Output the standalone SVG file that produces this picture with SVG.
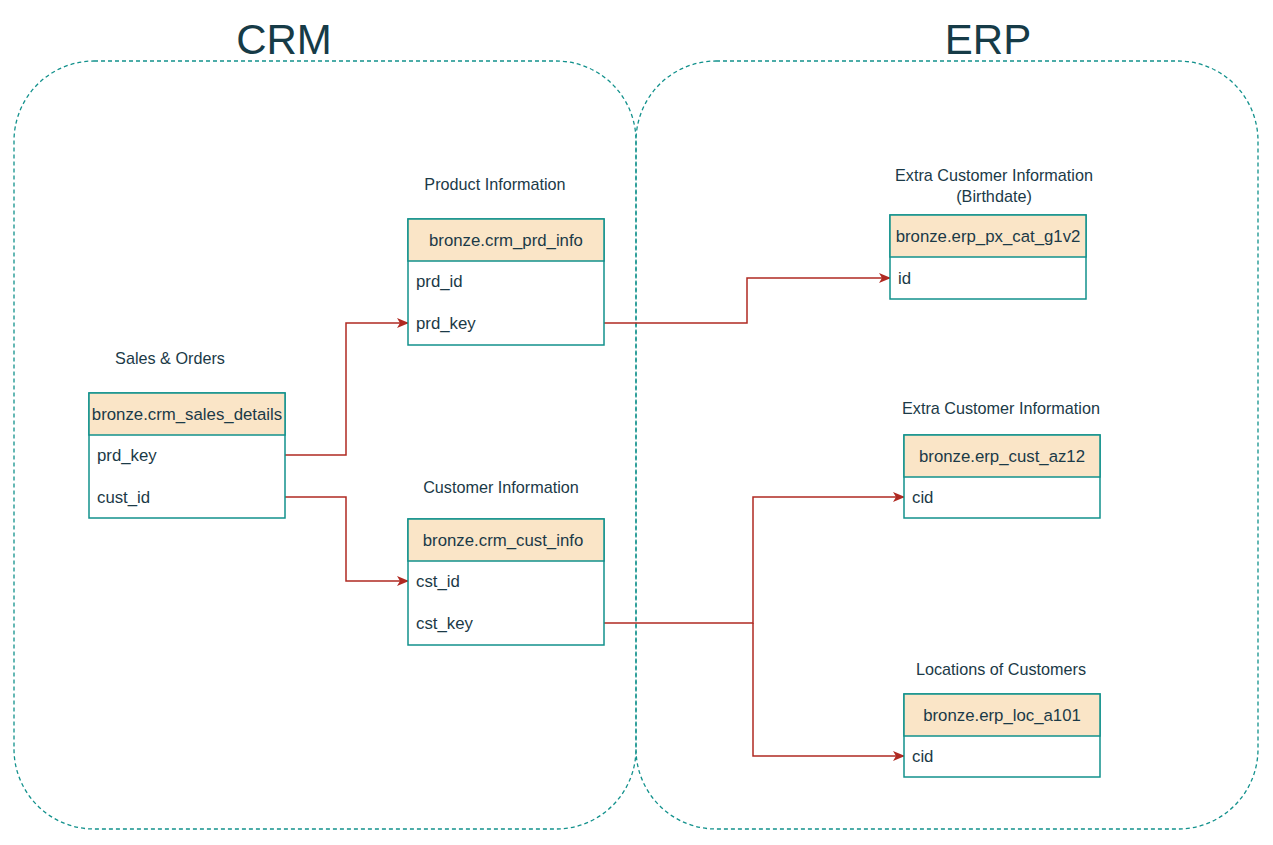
<svg xmlns="http://www.w3.org/2000/svg" width="1273" height="845" viewBox="0 0 1273 845">
<style>
.zone{fill:none;stroke:#12918C;stroke-width:1.3;stroke-dasharray:4 3}
.title{font-family:"Liberation Sans",Arial,sans-serif;font-size:42px;fill:#163B47;text-anchor:middle}
.lbl{font-family:"Liberation Sans",Arial,sans-serif;font-size:16.2px;fill:#1B3A47;text-anchor:middle}
.hd{fill:#FAE5C7;stroke:#12918C;stroke-width:1.5}
.bd{fill:#FFFFFF;stroke:#12918C;stroke-width:1.5}
.ht{font-family:"Liberation Sans",Arial,sans-serif;font-size:16.8px;fill:#1B3A47;text-anchor:middle}
.rt{font-family:"Liberation Sans",Arial,sans-serif;font-size:16.8px;fill:#1B3A47}
.cn{fill:none;stroke:#B02A22;stroke-width:1.5}
</style>
<defs>
<marker id="arr" viewBox="0 0 12 10" refX="11" refY="5" markerWidth="12" markerHeight="10" markerUnits="userSpaceOnUse" orient="auto">
<path d="M0,0 L12,5 L0,10 L3,5 Z" fill="#B02A22"/>
</marker>
</defs>
<rect width="1273" height="845" fill="#FFFFFF"/>
<g id="crm-zone">
<rect class="zone" x="14" y="61" width="622" height="768" rx="80" ry="80"/>
<text class="title" x="284" y="54">CRM</text>
</g>
<g id="erp-zone">
<rect class="zone" x="636" y="61" width="622" height="768" rx="80" ry="80"/>
<text class="title" x="988" y="54">ERP</text>
</g>
<g id="connectors">
<path class="cn" d="M285,455 H346 V323 H408" marker-end="url(#arr)"/>
<path class="cn" d="M285,497 H346 V581 H408" marker-end="url(#arr)"/>
<path class="cn" d="M604,323 H747 V278 H890" marker-end="url(#arr)"/>
<path class="cn" d="M604,623 H753 V497 H904" marker-end="url(#arr)"/>
<path class="cn" d="M753,623 V756 H904" marker-end="url(#arr)"/>
</g>
<g id="sales">
<text class="lbl" x="170" y="364">Sales &amp; Orders</text>
<rect class="bd" x="89" y="393" width="196" height="125"/>
<rect class="hd" x="89" y="393" width="196" height="42"/>
<text class="ht" x="187" y="420">bronze.crm_sales_details</text>
<text class="rt" x="97" y="461">prd_key</text>
<text class="rt" x="97" y="503">cust_id</text>
</g>
<g id="prd">
<text class="lbl" x="495" y="190">Product Information</text>
<rect class="bd" x="408" y="219" width="196" height="126"/>
<rect class="hd" x="408" y="219" width="196" height="42"/>
<text class="ht" x="506" y="246">bronze.crm_prd_info</text>
<text class="rt" x="416" y="287">prd_id</text>
<text class="rt" x="416" y="329">prd_key</text>
</g>
<g id="cust">
<text class="lbl" x="501" y="493">Customer Information</text>
<rect class="bd" x="408" y="519" width="196" height="126"/>
<rect class="hd" x="408" y="519" width="196" height="42"/>
<text class="ht" x="503" y="546">bronze.crm_cust_info</text>
<text class="rt" x="416" y="587">cst_id</text>
<text class="rt" x="416" y="629">cst_key</text>
</g>
<g id="pxcat">
<text class="lbl" x="994" y="181">Extra Customer Information</text>
<text class="lbl" x="994" y="202">(Birthdate)</text>
<rect class="bd" x="890" y="215" width="196" height="84"/>
<rect class="hd" x="890" y="215" width="196" height="42"/>
<text class="ht" x="988" y="242">bronze.erp_px_cat_g1v2</text>
<text class="rt" x="898" y="284">id</text>
</g>
<g id="az12">
<text class="lbl" x="1001" y="414">Extra Customer Information</text>
<rect class="bd" x="904" y="435" width="196" height="83"/>
<rect class="hd" x="904" y="435" width="196" height="42"/>
<text class="ht" x="1002" y="462">bronze.erp_cust_az12</text>
<text class="rt" x="912" y="503">cid</text>
</g>
<g id="loc">
<text class="lbl" x="1001" y="675">Locations of Customers</text>
<rect class="bd" x="904" y="694" width="196" height="83"/>
<rect class="hd" x="904" y="694" width="196" height="42"/>
<text class="ht" x="1002" y="721">bronze.erp_loc_a101</text>
<text class="rt" x="912" y="762">cid</text>
</g>
</svg>
